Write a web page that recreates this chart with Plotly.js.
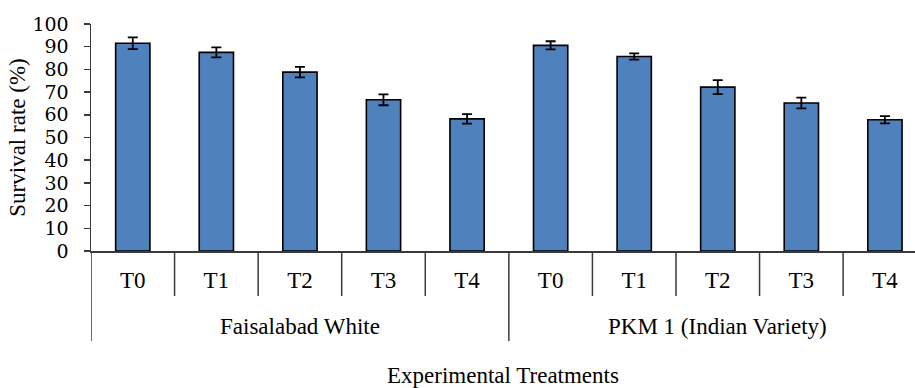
<!DOCTYPE html>
<html><head><meta charset="utf-8">
<script src="https://cdn.plot.ly/plotly-3.0.1.min.js"></script>
<style>html,body{margin:0;padding:0;background:#fff;overflow:hidden;}#chart{width:915px;height:388px;}</style>
</head><body><div id="chart"></div>
<script>
// ---- data ----
const groups = ["Faisalabad White", "PKM 1 (Indian Variety)"];
const treatments = ["T0", "T1", "T2", "T3", "T4"];
const faisalabadValues = [91.5, 87.5, 78.8, 66.6, 58.2];
const faisalabadErrors = [2.6, 2.2, 2.3, 2.4, 2.1];
const pkmValues = [90.6, 85.7, 72.2, 65.2, 57.8];
const pkmErrors = [1.8, 1.4, 3.1, 2.4, 1.6];
const yTickVals = [0, 10, 20, 30, 40, 50, 60, 70, 80, 90, 100];
const yTitle = "Survival rate (%)";
const xTitle = "Experimental Treatments";

// ---- build ----
const seriesValues = [faisalabadValues, pkmValues];
const seriesErrors = [faisalabadErrors, pkmErrors];
const xs = [], ys = [], es = [], labels = [];
groups.forEach((g, gi) => {
  treatments.forEach((t, ti) => {
    xs.push(gi * treatments.length + ti);
    ys.push(seriesValues[gi][ti]);
    es.push(seriesErrors[gi][ti]);
    labels.push(t);
  });
});

const serif = "'Liberation Serif', 'Times New Roman', serif";
const axisColor = "#3a3a3a";

const shapes = [];
xs.forEach((x, i) => {
  const isGroupStart = (i % treatments.length) === 0;
  shapes.push({
    type: "line", xref: "x", yref: "paper", ysizemode: "pixel", yanchor: 0,
    x0: x - 0.5, x1: x - 0.5, y0: 0, y1: isGroupStart ? -90 : -45,
    line: {color: axisColor, width: 1.5}
  });
});

const annotations = groups.map((g, gi) => ({
  xref: "x", yref: "paper", x: gi * treatments.length + (treatments.length - 1) / 2, y: 0,
  yshift: -75, xanchor: "center", yanchor: "middle", showarrow: false,
  text: g, font: {family: serif, size: 23, color: "#000"}
}));

const trace = {
  type: "bar", x: xs, y: ys, width: 0.41,
  marker: {color: "#4F81BD", line: {color: "#000", width: 1.6}},
  error_y: {type: "data", array: es, visible: true, color: "#000", thickness: 1.8, width: 5},
  hoverinfo: "y"
};

const layout = {
  width: 915, height: 388,
  margin: {l: 91, r: 0, t: 24, b: 137},
  paper_bgcolor: "#fff", plot_bgcolor: "#fff",
  showlegend: false,
  bargap: 0.59,
  xaxis: {
    range: [-0.5, 9.36], tickvals: xs, ticktext: labels, ticks: "",
    showline: true, linecolor: axisColor, linewidth: 1.5, showgrid: false, zeroline: false,
    tickfont: {family: serif, size: 23, color: "#000"},
    ticklabelstandoff: 8,
    title: {text: xTitle, font: {family: serif, size: 23, color: "#000"}, standoff: 76},
    fixedrange: true
  },
  yaxis: {
    range: [0, 100], tickvals: yTickVals, ticks: "outside", ticklen: 6, tickwidth: 1.5, tickcolor: axisColor,
    showline: true, linecolor: axisColor, linewidth: 1.5, showgrid: false, zeroline: false,
    tickfont: {family: "'DejaVu Serif', serif", size: 19, color: "#000"},
    ticklabelstandoff: 11,
    title: {text: yTitle, font: {family: serif, size: 23, color: "#000"}, standoff: 0},
    fixedrange: true
  },
  shapes: shapes,
  annotations: annotations
};

Plotly.newPlot("chart", [trace], layout, {displayModeBar: false, staticPlot: true});
</script>
</body></html>
